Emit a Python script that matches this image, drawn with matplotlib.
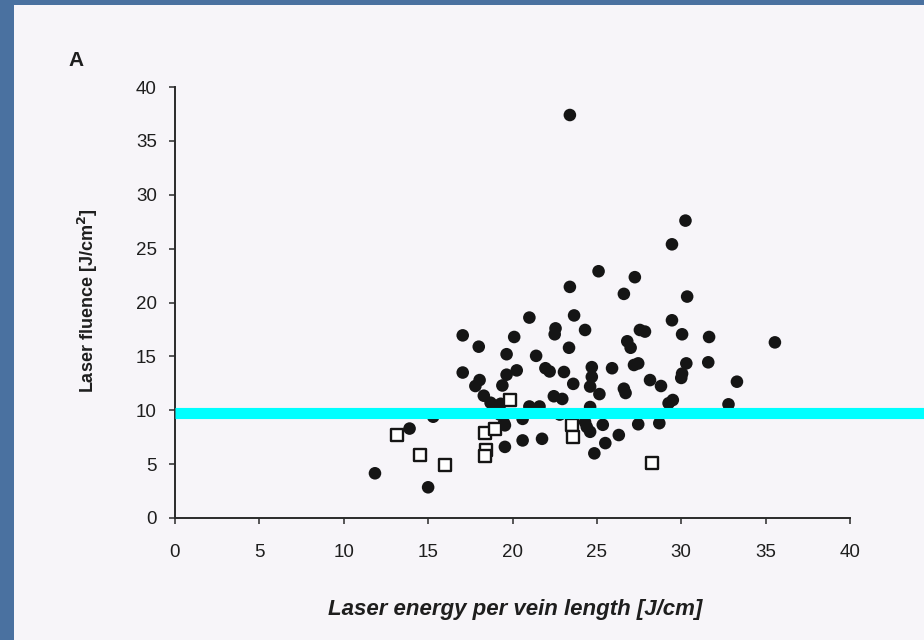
import matplotlib
matplotlib.use("Agg")
import matplotlib.pyplot as plt
from matplotlib.patches import Rectangle

# Filled circles (main group)
circle_x = [23.4, 30.25, 29.45, 25.1, 27.25, 23.4, 26.6, 30.35, 23.65, 21.0,
            29.45, 22.55, 22.5, 24.3, 27.55, 27.85, 17.05, 20.1, 30.05, 31.65,
            35.55, 26.8, 27.0, 18.0, 23.35, 19.65, 21.4, 25.9, 24.7, 30.3,
            31.6, 27.2, 27.45, 17.05, 20.25, 19.65, 21.95, 22.2, 23.05, 30.05,
            30.0, 33.3, 23.6, 24.7, 24.6, 26.6, 26.7, 28.15, 28.8, 19.4,
            18.05, 17.8, 18.3, 22.45, 22.95, 25.15, 29.5, 29.25, 18.7, 19.0,
            19.3, 21.0, 21.6, 32.8, 15.3, 22.8, 24.6, 20.6, 19.5, 19.55,
            25.35, 27.45, 28.7, 24.3, 24.4, 24.6, 13.9, 20.6, 21.75, 26.3,
            25.5, 19.55, 24.85, 11.85, 15.0, 19.25]
circle_y = [37.4, 27.6, 25.4, 22.9, 22.35, 21.45, 20.8, 20.55, 18.8, 18.6,
            18.35, 17.6, 17.05, 17.45, 17.45, 17.3, 16.95, 16.8, 17.05, 16.8,
            16.3, 16.4, 15.8, 15.9, 15.8, 15.2, 15.05, 13.9, 14.0, 14.35,
            14.45, 14.2, 14.35, 13.5, 13.7, 13.3, 13.9, 13.6, 13.55, 13.4,
            13.0, 12.65, 12.45, 13.1, 12.2, 12.0, 11.6, 12.8, 12.25, 12.3,
            12.8, 12.25, 11.35, 11.3, 11.05, 11.5, 10.95, 10.65, 10.7, 10.4,
            10.6, 10.35, 10.35, 10.55, 9.4, 9.6, 10.3, 9.2, 8.8, 8.6,
            8.65, 8.7, 8.8, 8.9, 8.45, 8.0, 8.3, 7.2, 7.35, 7.7,
            6.95, 6.6, 6.0, 4.15, 2.85, 9.6]

# Open squares
square_x = [13.15, 14.5, 16.0, 18.35, 18.4, 18.35, 18.95, 19.85, 23.55, 23.6, 28.25]
square_y = [7.7, 5.85, 4.9, 7.9, 6.3, 5.75, 8.3, 10.95, 8.65, 7.55, 5.1]

threshold = 9.7
x_ticks = [0, 5, 10, 15, 20, 25, 30, 35, 40]
y_ticks = [0, 5, 10, 15, 20, 25, 30, 35, 40]

plt.rcParams['font.family'] = ['Liberation Sans', 'DejaVu Sans']

W, H = 924, 640
fig = plt.figure(figsize=(W / 100, H / 100), dpi=100)
fig.patch.set_facecolor('#4a71a0')
panel = Rectangle((14 / W, 0), 1 - 14 / W, (H - 5) / H,
                  transform=fig.transFigure, facecolor='#f7f5f9',
                  edgecolor='none', zorder=-10)
fig.patches.append(panel)

ax = fig.add_axes([175 / W, (H - 518) / H, (850 - 175) / W, (518 - 87) / H])
ax.set_zorder(2)
ax.set_facecolor('none')
ax.set_xlim(0, 40)
ax.set_ylim(0, 40)
ax.set_xticks(x_ticks)
ax.set_yticks(y_ticks)
for s in ['top', 'right']:
    ax.spines[s].set_visible(False)
for s in ['left', 'bottom']:
    ax.spines[s].set_color('#2a2a2a')
    ax.spines[s].set_linewidth(1.4)
ax.tick_params(axis='both', direction='out', length=4, width=1.1,
               color='#2a2a2a', labelsize=13.5, labelcolor='#1e1e1e')
ax.tick_params(axis='y', pad=9)
ax.tick_params(axis='x', pad=15)

ax.scatter(circle_x, circle_y, s=82, c='#151515', edgecolors='none', zorder=3,
           clip_on=False)
ax.scatter(square_x, square_y, s=74, marker='s', facecolors='white',
           edgecolors='#151515', linewidths=1.7, zorder=4, clip_on=False)

ax.axhline(threshold, xmin=0, xmax=(W - 175) / (850 - 175), color='#00ffff',
           linewidth=8, zorder=5, clip_on=False, solid_capstyle='butt')

fig.text(88 / W, 1 - 301 / H, 'Laser fluence [J/cm$^\\mathbf{2}$]', rotation=90,
         ha='center', va='center', fontsize=13, fontweight='bold',
         color='#1e1e1e', zorder=3)
fig.text(515 / W, 1 - 610 / H, 'Laser energy per vein length [J/cm]',
         ha='center', va='center', fontsize=16, fontweight='bold',
         fontstyle='italic', color='#1e1e1e', zorder=3)
fig.text(76 / W, 1 - 60 / H, 'A', ha='center', va='center', fontsize=15,
         fontweight='bold', color='#1e1e1e', zorder=3)

fig.savefig('out.png', dpi=100, facecolor=fig.get_facecolor())
